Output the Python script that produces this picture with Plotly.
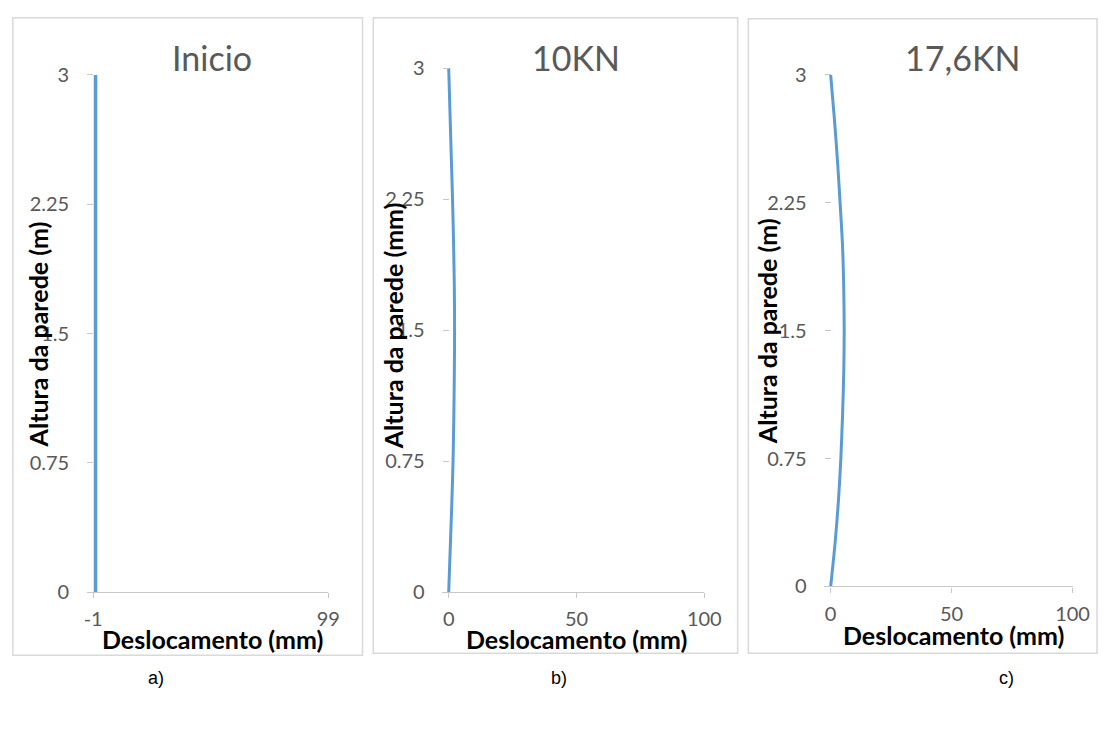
import plotly.graph_objects as go

# Wall height (m) sampled along the wall, and lateral displacement (mm) for each load stage
heights = [0, 0.25, 0.5, 0.75, 1.0, 1.25, 1.5, 1.75, 2.0, 2.25, 2.5, 2.75, 3.0]
disp_inicio = [0, 0, 0, 0, 0, 0, 0, 0, 0, 0, 0, 0, 0]
disp_10kn = [0, 0.6, 1.2, 1.7, 2.0, 2.2, 2.3, 2.2, 1.9, 1.5, 1.0, 0.5, 0]
disp_176kn = [0, 1.8, 3.2, 4.2, 4.9, 5.4, 5.6, 5.4, 4.9, 3.9, 2.8, 1.5, 0]

series = [disp_inicio, disp_10kn, disp_176kn]
titles = ["Inicio", "10KN", "17,6KN"]
y_titles = ["Altura da parede (m)", "Altura da parede (mm)", "Altura da parede (m)"]
x_title = "Deslocamento (mm)"
tags = ["a)", "b)", "c)"]

y_ticks = [0, 0.75, 1.5, 2.25, 3]
y_tick_labels = ["0", "0.75", "1.5", "2.25", "3"]
x_ticks = [[-1, 99], [0, 50, 100], [0, 50, 100]]
x_tick_labels = [["-1", "99"], ["0", "50", "100"], ["0", "50", "100"]]
x_limits = [(-1, 99), (0, 100), (0, 100)]

W, H = 1117, 729
BLUE = "#5B9BD5"
GREY_TXT = "#595959"
AXIS_GREY = "#C8C8C8"
BORDER = "#D9D9D9"


def fx(p):
    return p / W


def fy(p):
    return 1 - p / H


# pixel geometry of each chart (plot area and frame)
geom = [
    dict(x0=89, x1=329, ytop=64, ybot=599, lead=4, lw=3.5,
         frame=(7, 5, 364, 664), title=(210, 46), xt=(211, 647), yt=(33, 332), tag=(153, 688)),
    dict(x0=452, x1=713, ytop=57, ybot=599, lead=7, lw=3,
         frame=(375, 5, 747, 662), title=(582, 46), xt=(583, 647), yt=(395, 323), tag=(565, 688)),
    dict(x0=842, x1=1089, ytop=64, ybot=593, lead=7, lw=3,
         frame=(758, 6, 1114, 662), title=(977, 46), xt=(967, 643), yt=(777, 329), tag=(1022, 688)),
]

fig = go.Figure()
layout = dict(
    width=W, height=H,
    margin=dict(l=0, r=0, t=0, b=0),
    paper_bgcolor="white", plot_bgcolor="white",
    showlegend=False,
)
annotations = []
shapes = []

for i, g in enumerate(geom):
    k = "" if i == 0 else str(i + 1)
    xmin, xmax = x_limits[i]
    scale = (g["x1"] - g["x0"]) / (xmax - xmin)
    lo = xmin - g["lead"] / scale

    fig.add_trace(go.Scatter(
        x=series[i], y=heights, mode="lines",
        line=dict(color=BLUE, width=g["lw"], shape="spline", smoothing=0.8),
        xaxis="x" + k, yaxis="y" + k, hoverinfo="skip",
    ))

    layout["xaxis" + k] = dict(
        domain=[fx(g["x0"] - g["lead"]), fx(g["x1"])],
        range=[lo, xmax], anchor="y" + k,
        tickvals=x_ticks[i], ticktext=x_tick_labels[i],
        showline=True, linecolor=AXIS_GREY, linewidth=1.3,
        ticks="outside", ticklen=5, tickcolor=AXIS_GREY, tickwidth=1.3,
        showgrid=False, zeroline=False,
        tickfont=dict(family="Lato", size=20, color=GREY_TXT),
        ticklabelstandoff=4,
    )
    layout["yaxis" + k] = dict(
        domain=[fy(g["ybot"]), fy(g["ytop"])],
        range=[0, 3], anchor="free", position=fx(g["x0"]),
        tickvals=y_ticks, ticktext=y_tick_labels,
        showline=False, ticks="outside", ticklen=6, tickcolor=AXIS_GREY, tickwidth=1.3,
        showgrid=False, zeroline=False,
        tickfont=dict(family="Lato", size=20, color=GREY_TXT),
        ticklabelstandoff=14,
    )

    fl, ft, fr, fb = g["frame"]
    shapes.append(dict(type="rect", xref="paper", yref="paper",
                       x0=fx(fl), x1=fx(fr), y0=fy(fb), y1=fy(ft),
                       line=dict(color=BORDER, width=1.5), layer="below"))

    annotations.append(dict(text=titles[i], xref="paper", yref="paper",
                            x=fx(g["title"][0]), y=fy(g["title"][1]),
                            xanchor="center", yanchor="middle", showarrow=False,
                            font=dict(family="Lato", size=34, color=GREY_TXT)))
    annotations.append(dict(text=x_title, xref="paper", yref="paper",
                            x=fx(g["xt"][0]), y=fy(g["xt"][1]),
                            xanchor="center", yanchor="middle", showarrow=False,
                            font=dict(family="Lato", size=25, color="black", weight="bold")))
    annotations.append(dict(text=y_titles[i], xref="paper", yref="paper",
                            x=fx(g["yt"][0]), y=fy(g["yt"][1]), textangle=-90,
                            xanchor="center", yanchor="middle", showarrow=False,
                            font=dict(family="Lato", size=25, color="black", weight="bold")))
    annotations.append(dict(text=tags[i], xref="paper", yref="paper",
                            x=fx(g["tag"][0]), y=fy(g["tag"][1]),
                            xanchor="center", yanchor="middle", showarrow=False,
                            font=dict(family="Liberation Sans", size=18, color="black")))

layout["annotations"] = annotations
layout["shapes"] = shapes
fig.update_layout(**layout)
fig.write_html("out.html")
